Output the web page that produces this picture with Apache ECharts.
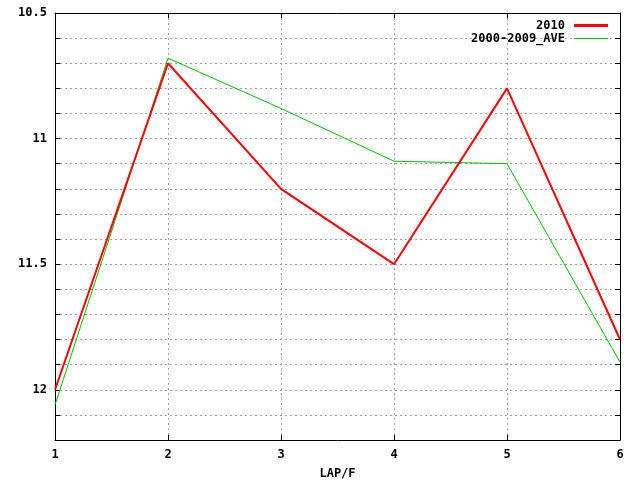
<!DOCTYPE html>
<html><head><meta charset="utf-8">
<script src="https://cdn.jsdelivr.net/npm/echarts@6/dist/echarts.min.js"></script>
<style>html,body{margin:0;padding:0;background:#fff}#c{width:640px;height:480px}</style>
</head><body><div id="c"></div>
<script>
const laps = [1, 2, 3, 4, 5, 6];
const s2010 = [12.0, 10.70, 11.20, 11.50, 10.80, 11.80];
const sAve = [12.06, 10.68, 10.88, 11.09, 11.10, 11.89];
const yLabels = ['10.5', '11', '11.5', '12'];
const xName = 'LAP/F';

const font = {fontFamily: 'DejaVu Sans Mono', fontWeight: 'bold', fontSize: 12, color: '#000'};
const gridLine = {show: true, lineStyle: {color: '#a0a0a0', type: [2, 3], width: 1}};
const axLine = {show: true, lineStyle: {color: '#000', width: 1}};
const tick = {show: true, inside: true, length: 5, lineStyle: {color: '#000'}};

function yFmt(v) {
  const s = String(Math.round(v * 10) / 10);
  return yLabels.indexOf(s) >= 0 ? s : '';
}

const chart = echarts.init(document.getElementById('c'), null, {renderer: 'canvas'});
chart.setOption({
  animation: false,
  backgroundColor: '#fff',
  grid: {left: 55, right: 20, top: 13, bottom: 40, containLabel: false, outerBoundsMode: 'none'},
  legend: {
    top: 19, right: 32, orient: 'vertical', align: 'right', padding: 0,
    itemWidth: 34, itemHeight: 3, itemGap: 0,
    textStyle: Object.assign({}, font, {padding: [0, 4, 0, 0], lineHeight: 13}),
    data: [
      {name: '2010', icon: 'rect', itemStyle: {color: '#ff0000'}},
      {name: '2000-2009_AVE', icon: 'path://M0,0 L34,0 L34,1 L0,1 Z', itemStyle: {color: '#00c000'}}
    ]
  },
  xAxis: [{
    type: 'value', min: 1, max: 6, interval: 1, position: 'bottom',
    name: xName, nameLocation: 'middle', nameGap: 28, nameTextStyle: font,
    axisLine: axLine, axisTick: tick, splitLine: gridLine,
    axisLabel: Object.assign({}, font, {margin: 9})
  }, {
    type: 'value', min: 1, max: 6, interval: 1, position: 'top',
    axisLine: axLine, axisTick: tick, splitLine: {show: false}, axisLabel: {show: false}
  }],
  yAxis: [{
    type: 'value', inverse: true, min: 10.5, max: 12.2, interval: 0.1, position: 'left',
    axisLine: axLine, axisTick: tick, splitLine: gridLine,
    axisLabel: Object.assign({}, font, {margin: 8, formatter: yFmt, showMaxLabel: false})
  }, {
    type: 'value', inverse: true, min: 10.5, max: 12.2, interval: 0.1, position: 'right',
    axisLine: axLine, axisTick: tick, splitLine: {show: false}, axisLabel: {show: false}
  }],
  series: [{
    name: '2010', type: 'line', symbol: 'none',
    lineStyle: {color: '#ff0000', width: 2}, itemStyle: {color: '#ff0000'},
    data: laps.map((x, i) => [x, s2010[i]]), z: 3
  }, {
    name: '2000-2009_AVE', type: 'line', symbol: 'none',
    lineStyle: {color: '#00c000', width: 1}, itemStyle: {color: '#00c000'},
    data: laps.map((x, i) => [x, sAve[i]]), z: 2
  }]
});
</script></body></html>
